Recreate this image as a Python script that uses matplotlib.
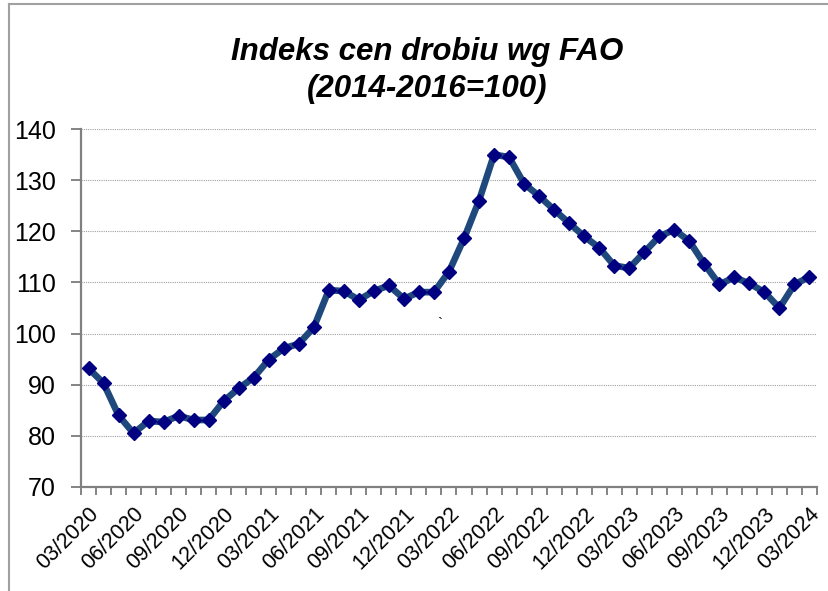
import matplotlib
matplotlib.use("Agg")
import matplotlib.pyplot as plt
from matplotlib.lines import Line2D

plt.rcParams['font.family'] = ['Liberation Sans', 'DejaVu Sans']

# monthly FAO poultry price index, 03/2020 .. 03/2024
months = [f"{m:02d}/{y}" for y in range(2020, 2025) for m in range(1, 13)][2:51]
index_values = [
    93.2, 90.3, 84.0, 80.5, 82.9, 82.7, 83.9, 83.1, 83.1, 86.8, 89.3, 91.4,
    94.9, 97.1, 98.0, 101.2, 108.5, 108.3, 106.6, 108.3, 109.4, 106.8, 108.1, 108.1,
    112.1, 118.6, 126.0, 135.0, 134.5, 129.3, 126.9, 124.2, 121.6, 119.0, 116.8, 113.3,
    112.8, 115.9, 119.0, 120.3, 118.1, 113.6, 109.6, 111.0, 109.8, 108.1, 105.0, 109.6,
    111.1,
]
y_ticks = [70, 80, 90, 100, 110, 120, 130, 140]

fig = plt.figure(figsize=(8.29, 5.91), dpi=100)
ax = fig.add_axes([0.0977, 0.176, 0.8878, 0.6057])

x = list(range(len(months)))
ax.plot(x, index_values, color='#1F497D', lw=4.8, solid_joinstyle='round',
        marker='D', markersize=7, markerfacecolor='#000080', markeredgecolor='#000080', zorder=3)

ax.set_xlim(-0.5, len(months) - 0.5)
ax.set_ylim(70, 140)
ax.set_yticks(y_ticks)
ax.yaxis.grid(True, linestyle=(0, (1, 1)), color='#a0a0a0', lw=0.8)
ax.set_axisbelow(True)

ax.set_xticks(x[::3])
ax.set_xticklabels(months[::3], rotation=45, ha='right', rotation_mode='anchor', fontsize=15.5)
ax.set_xticks([i - 0.5 for i in range(len(months) + 1)], minor=True)
ax.tick_params(axis='x', which='major', length=0, pad=12)
ax.tick_params(axis='x', which='minor', length=6, width=1.2, color='#707070')
ax.tick_params(axis='y', length=7, width=1.2, color='#707070', labelsize=18, pad=11)

for s in ['top', 'right']:
    ax.spines[s].set_visible(False)
for s in ['left', 'bottom']:
    ax.spines[s].set_color('#808080')
    ax.spines[s].set_linewidth(1.6)

fig.text(0.515, 0.881, 'Indeks cen drobiu wg FAO\n(2014-2016=100)', ha='center', va='center',
         fontsize=22.5, fontweight='bold', fontstyle='italic', linespacing=1.3)
fig.text(0.531, 0.452, '`', fontsize=11, ha='center', va='center')

# chart-area frame (only top and left edges fall inside the image)
fig.add_artist(Line2D([0.011, 1.0], [0.993, 0.993], color='#a0a0a0', lw=1.5, transform=fig.transFigure))
fig.add_artist(Line2D([0.011, 0.011], [0.0, 0.993], color='#a0a0a0', lw=1.5, transform=fig.transFigure))

fig.savefig('out.png', dpi=100)
